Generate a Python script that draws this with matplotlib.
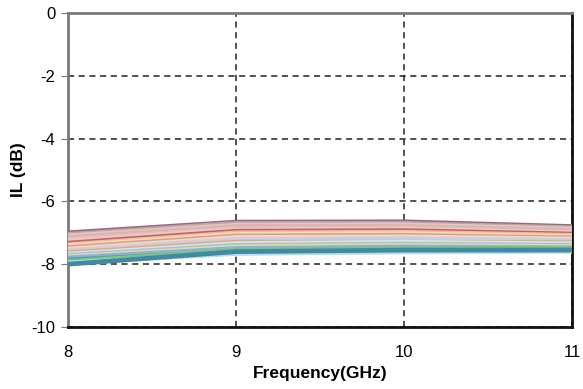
import matplotlib.pyplot as plt

plt.rcParams['font.family'] = ['Liberation Sans', 'DejaVu Sans']
plt.rcParams['axes.unicode_minus'] = False

freq = [8, 9, 10, 11]

# IL curves (dB) at each frequency, top to bottom
il_8 = [-7.00, -7.05, -7.10, -7.15, -7.20, -7.25, -7.33, -7.38, -7.42, -7.47, -7.52,
        -7.56, -7.60, -7.64, -7.68, -7.72, -7.76, -7.80, -7.86, -7.92, -7.96, -8.00]
il_9 = [-6.66, -6.70, -6.76, -6.80, -6.86, -6.90, -6.95, -7.00, -7.05, -7.10, -7.15,
        -7.20, -7.25, -7.30, -7.34, -7.40, -7.45, -7.50, -7.60, -7.56, -7.66, -7.60]
il_10 = [-6.65, -6.70, -6.75, -6.80, -6.84, -6.88, -6.93, -6.98, -7.03, -7.08, -7.13,
         -7.18, -7.22, -7.30, -7.30, -7.36, -7.40, -7.45, -7.55, -7.50, -7.61, -7.55]
il_11 = [-6.80, -6.84, -6.88, -6.92, -6.96, -7.00, -7.04, -7.08, -7.12, -7.16, -7.20,
         -7.24, -7.28, -7.32, -7.35, -7.40, -7.44, -7.48, -7.52, -7.50, -7.59, -7.55]
colors = ['#8e6a86', '#c9a0a8', '#d8cfc0', '#e8b0a0', '#c8c0d8', '#f0c8b8', '#c06070',
          '#f4b8a0', '#f0e0b0', '#e89888', '#d8e8c8', '#f8c0c8', '#c0d0e8', '#f0a070',
          '#d0e8e0', '#a8c0e0', '#e8d8a0', '#90b0d8', '#5aa0b8', '#88c070', '#b0e0f0',
          '#3d8ca4']

fig = plt.figure(figsize=(5.83, 3.89), dpi=100)
ax = fig.add_axes([0.1166, 0.1594, 0.8645, 0.8072])

for i in range(len(colors)):
    ys = [il_8[i], il_9[i], il_10[i], il_11[i]]
    ax.plot(freq, ys, color=colors[i], lw=3.4, solid_capstyle='butt', zorder=3)

ax.set_xlim(8, 11)
ax.set_ylim(-10, 0)
ax.set_xticks([8, 9, 10, 11])
ax.set_yticks([0, -2, -4, -6, -8, -10])
ax.grid(True, color='#222222', linestyle=(0, (4, 3)), linewidth=1.1, zorder=1)
ax.tick_params(axis='y', labelsize=12, length=5, color='#777777', pad=4)
ax.tick_params(axis='x', labelsize=12, length=0, pad=13)

for side in ['left', 'top']:
    ax.spines[side].set_color('#7a7a7a')
    ax.spines[side].set_linewidth(2)
for side in ['right', 'bottom']:
    ax.spines[side].set_color('#111111')
    ax.spines[side].set_linewidth(2)

ax.set_xlabel('Frequency(GHz)', fontsize=12.5, fontweight='bold', labelpad=4)
ax.set_ylabel('IL (dB)', fontsize=12.5, fontweight='bold', labelpad=4)

fig.savefig('out.png', dpi=100)
